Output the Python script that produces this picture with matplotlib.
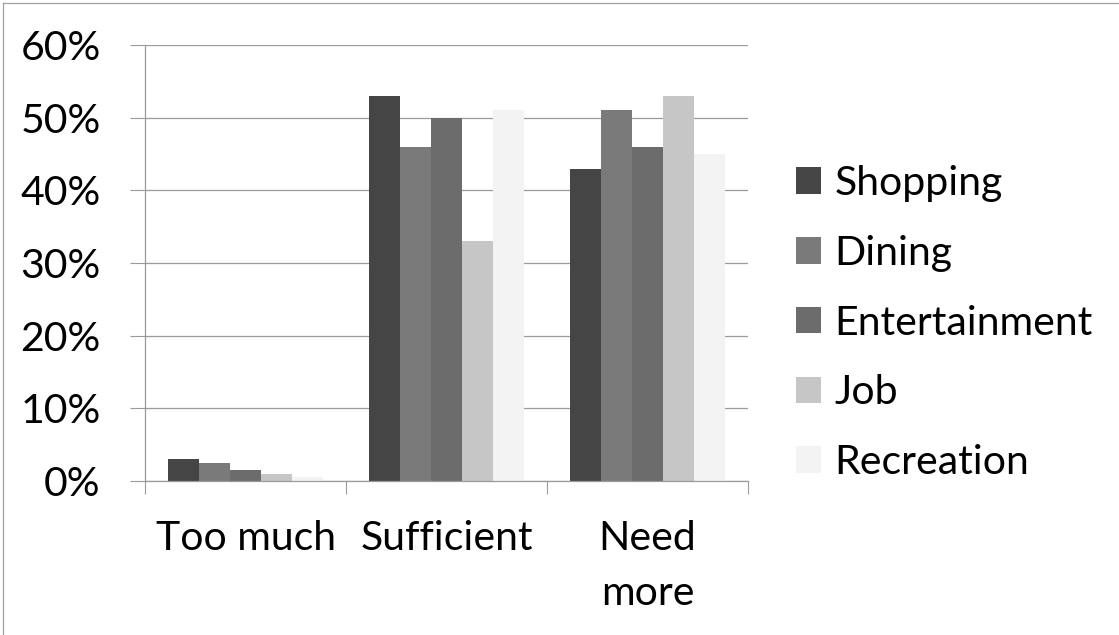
import matplotlib
matplotlib.use("Agg")
import matplotlib.pyplot as plt
from matplotlib.ticker import PercentFormatter, FixedLocator, NullFormatter
from matplotlib.lines import Line2D
import numpy as np

# Survey responses: share of respondents per answer, by activity type
categories = ["Too much", "Sufficient", "Need\nmore"]
series_names = ["Shopping", "Dining", "Entertainment", "Job", "Recreation"]
shopping = [0.03, 0.53, 0.43]
dining = [0.025, 0.46, 0.51]
entertainment = [0.015, 0.50, 0.46]
job = [0.01, 0.33, 0.53]
recreation = [0.005, 0.51, 0.45]
series_values = [shopping, dining, entertainment, job, recreation]
series_colors = ["#454545", "#7a7a7a", "#6c6c6c", "#c6c6c6", "#f3f3f3"]

plt.rcParams["font.family"] = ["Lato", "DejaVu Sans"]
FS = 29.5

fig = plt.figure(figsize=(11.19, 6.35), dpi=100)
ax = fig.add_axes([145 / 1119, 1 - 481 / 635, (748 - 145) / 1119, (481 - 45) / 635])

n = len(series_names)
width = 1 / (n + 1.5)
x = np.arange(len(categories))
for i, (name, vals, col) in enumerate(zip(series_names, series_values, series_colors)):
    ax.bar(x + (i - (n - 1) / 2) * width, vals, width, color=col, label=name,
           zorder=2, linewidth=0)

ax.set_xlim(-0.5, len(categories) - 0.5)
ax.set_ylim(0, 0.6)
ax.yaxis.set_major_locator(FixedLocator(np.arange(0, 0.61, 0.1)))
ax.yaxis.set_major_formatter(PercentFormatter(xmax=1, decimals=0))
ax.grid(axis="y", color="#9a9a9a", linewidth=0.9, zorder=0)
ax.set_axisbelow(True)

ax.set_xticks(x)
ax.set_xticklabels(categories, fontsize=FS, linespacing=1.6)
ax.set_xticks(np.arange(-0.5, len(categories), 1), minor=True)
ax.xaxis.set_minor_formatter(NullFormatter())
ax.tick_params(axis="x", which="major", length=0, pad=28)
ax.tick_params(axis="x", which="minor", length=9.5, width=0.8, color="#9a9a9a", direction="out")
ax.tick_params(axis="y", which="major", length=11, width=0.8, color="#9a9a9a", labelsize=FS, pad=21)

for side in ("top", "right"):
    ax.spines[side].set_visible(False)
for side in ("left", "bottom"):
    ax.spines[side].set_color("#9a9a9a")
    ax.spines[side].set_linewidth(0.9)

ax.legend(loc="upper left", bbox_to_anchor=(796 / 1119, 1 - 165 / 635),
          bbox_transform=fig.transFigure, frameon=False, fontsize=FS,
          handlelength=0.62, handleheight=0.62, handletextpad=0.32,
          labelspacing=0.8, borderpad=0, borderaxespad=0)

# chart frame edges
fig.add_artist(Line2D([3 / 1119, 3 / 1119], [0, 1 - 3 / 635], transform=fig.transFigure,
                      color="#a0a0a0", linewidth=0.9))
fig.add_artist(Line2D([3 / 1119, 1], [1 - 3 / 635, 1 - 3 / 635], transform=fig.transFigure,
                      color="#a0a0a0", linewidth=0.9))

fig.savefig("out.png", dpi=100, facecolor="white")
